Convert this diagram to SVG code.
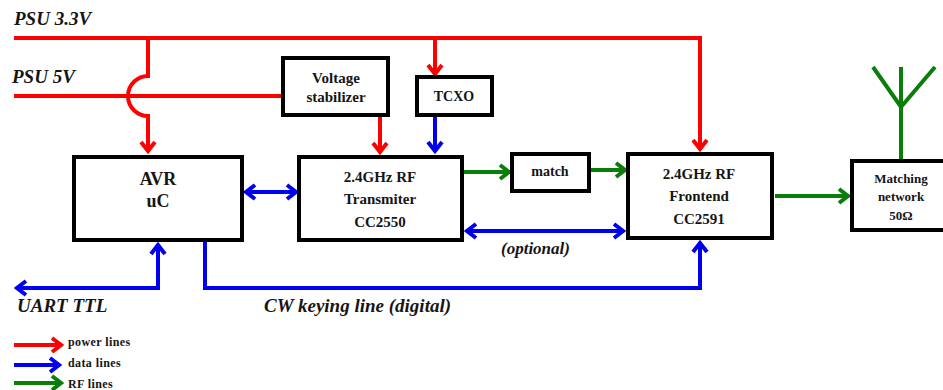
<svg xmlns="http://www.w3.org/2000/svg" width="943" height="390" viewBox="0 0 943 390">
<style>
text{font-family:"Liberation Serif","Times New Roman",serif;font-weight:bold;fill:#151515;text-anchor:middle}
.i{font-style:italic;text-anchor:start}
.l{font-style:italic;font-size:19px;text-anchor:start}
.k{font-size:12px;text-anchor:start;letter-spacing:.4px}
.box{fill:#fff;stroke:#000;stroke-width:4}
.c{fill:none;stroke-width:4}
.r{stroke:#f00}.b{stroke:#00e}.g{stroke:#0a7d0a}
.mh{fill:none;stroke-width:4;stroke-linejoin:miter}
</style>
<defs>
<marker id="ar" markerUnits="userSpaceOnUse" markerWidth="16" markerHeight="18" refX="14" refY="9" orient="auto-start-reverse" viewBox="0 0 16 18"><path d="M4 2L13 9L4 16" class="mh" stroke="#f00"/></marker>
<marker id="ab" markerUnits="userSpaceOnUse" markerWidth="16" markerHeight="18" refX="14" refY="9" orient="auto-start-reverse" viewBox="0 0 16 18"><path d="M4 2L13 9L4 16" class="mh" stroke="#00e"/></marker>
<marker id="ag" markerUnits="userSpaceOnUse" markerWidth="16" markerHeight="18" refX="14" refY="9" orient="auto-start-reverse" viewBox="0 0 16 18"><path d="M4 2L13 9L4 16" class="mh" stroke="#0a7d0a"/></marker>
</defs>
<rect width="943" height="390" fill="#fff"/>
<g id="connectors">
<path class="c r" d="M14 38H700V150" marker-end="url(#ar)"/>
<path class="c r" d="M14 96H283"/>
<path class="c r" d="M148 38V76C138 76 128 84 128 96C128 108 138 116 148 116V152" marker-end="url(#ar)"/>
<path class="c r" d="M435 38V75" marker-end="url(#ar)"/>
<path class="c r" d="M380 117V153" marker-end="url(#ar)"/>
<path class="c b" d="M435 117V152" marker-end="url(#ab)"/>
<path class="c b" d="M245 192H297" marker-start="url(#ab)" marker-end="url(#ab)"/>
<path class="c g" d="M464 172H510" marker-end="url(#ag)"/>
<path class="c g" d="M591 170H626" marker-end="url(#ag)"/>
<path class="c b" d="M466 231H624" marker-start="url(#ab)" marker-end="url(#ab)"/>
<path class="c g" d="M775 196H849" marker-end="url(#ag)"/>
<path class="c g" d="M901 159V67M873 67L901 107L935 67"/>
<path class="c b" d="M16 288H158V244" marker-start="url(#ab)" marker-end="url(#ab)"/>
<path class="c b" d="M205 242V288H700V242" marker-end="url(#ab)"/>
<path class="c r" d="M14 345H62" marker-end="url(#ar)"/>
<path class="c b" d="M14 365H60" marker-end="url(#ab)"/>
<path class="c g" d="M14 383H62" marker-end="url(#ag)"/>
</g>
<g id="voltage-stabilizer"><rect class="box" x="283" y="58" width="105" height="57"/><text x="336" y="83" font-size="15">Voltage</text><text x="336" y="102" font-size="15">stabilizer</text></g>
<g id="tcxo"><rect class="box" x="417" y="77" width="75" height="38"/><text x="454" y="101" font-size="14">TCXO</text></g>
<g id="avr"><rect class="box" x="74" y="157" width="168" height="83"/><text x="158" y="185" font-size="18">AVR</text><text x="158" y="207" font-size="18">uC</text></g>
<g id="transmitter"><rect class="box" x="299" y="157" width="163" height="83"/><text x="380" y="182" font-size="15">2.4GHz RF</text><text x="380" y="204" font-size="15">Transmiter</text><text x="380" y="227" font-size="15">CC2550</text></g>
<g id="match"><rect class="box" x="512" y="154" width="77" height="37"/><text x="550" y="176" font-size="14">match</text></g>
<g id="frontend"><rect class="box" x="628" y="154" width="144" height="84"/><text x="699" y="179" font-size="15">2.4GHz RF</text><text x="699" y="201" font-size="15">Frontend</text><text x="699" y="224" font-size="15">CC2591</text></g>
<g id="matching-network"><rect class="box" x="852" y="161" width="95" height="69"/><text x="901" y="183" font-size="13">Matching</text><text x="901" y="201" font-size="13">network</text><text x="901" y="220" font-size="13">50Ω</text></g>
<g id="labels">
<text class="l" x="14" y="25">PSU 3.3V</text>
<text class="l" x="12" y="83">PSU 5V</text>
<text class="i" x="501" y="254" font-size="17">(optional)</text>
<text class="l" x="17" y="312">UART TTL</text>
<text class="l" x="264" y="312">CW keying line (digital)</text>
<text class="k" x="68" y="346">power lines</text>
<text class="k" x="68" y="367">data lines</text>
<text class="k" x="68" y="388">RF lines</text>
</g>
</svg>
